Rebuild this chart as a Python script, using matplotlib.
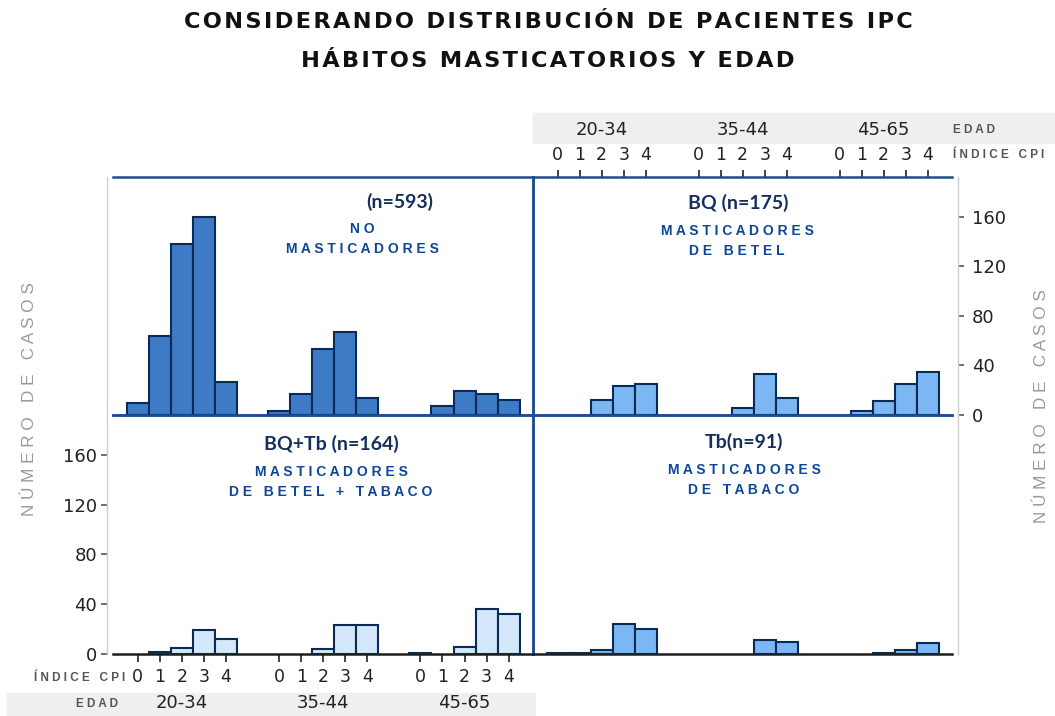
import matplotlib.pyplot as plt
import matplotlib.transforms as mtransforms
from matplotlib.patches import Rectangle

# datos (numero de casos por indice CPI 0-4 en cada grupo de edad)
cpi = [0, 1, 2, 3, 4]
edades = ['20-34', '35-44', '45-65']
no_mast = [[10, 64, 138, 160, 27], [3, 17, 53, 67, 14], [0, 7.5, 19, 17, 12]]
betel = [[0, 0, 12, 23, 25], [0, 0, 6, 33, 14], [0, 3, 11, 25, 35]]
betel_tabaco = [[0, 1.5, 4.5, 19, 12], [0, 0, 4, 23, 23], [1, 0, 6, 36, 32.5]]
tabaco = [[1, 1, 3.5, 24, 20], [0, 0, 0, 11.5, 10], [0, 0, 1, 3.5, 8.6]]
yticks = [0, 40, 80, 120, 160]

offsets = [0, 6.4, 12.8]
W, H = 1055, 716
BLUE = '#1d4b94'
NAVY = '#0b2a55'
TXT = '#0d4698'


def spaced(s):
    return '   '.join(' '.join(w) for w in s.split(' '))


def px_axes(x0, y0, x1, y1):
    return fig.add_axes([x0 / W, 1 - y1 / H, (x1 - x0) / W, (y1 - y0) / H])


fig = plt.figure(figsize=(W / 100, H / 100), dpi=100)

ax_tl = px_axes(113, 177, 533, 415)
ax_tr = px_axes(533, 177, 952, 415)
ax_bl = px_axes(113, 415, 533, 654)
ax_br = px_axes(533, 415, 952, 654)

panels = [
    (ax_tl, no_mast, '#3d7bc7', '(n=593)', 'NO\nMASTICADORES', 0.683, 0.593, 0.897),
    (ax_tr, betel, '#7ab7f3', 'BQ (n=175)', 'MASTICADORES\nDE BETEL', 0.49, 0.487, 0.89),
    (ax_bl, betel_tabaco, '#d5e7fb', 'BQ+Tb (n=164)', 'MASTICADORES\nDE BETEL + TABACO', 0.519, 0.519, 0.879),
    (ax_br, tabaco, '#7ab7f3', 'Tb(n=91)', 'MASTICADORES\nDE TABACO', 0.504, 0.504, 0.888),
]

for ax, data, color, head, sub, hx, sx, hy in panels:
    for g, vals in enumerate(data):
        xs = [offsets[g] + c for c, v in zip(cpi, vals) if v > 0]
        hs = [v for v in vals if v > 0]
        ax.bar(xs, hs, width=1.0, color=color, edgecolor=NAVY, linewidth=1.5, zorder=3)
    ax.set_xlim(-1.12, 17.9)
    ax.set_ylim(0, 192)
    ax.set_xticks([])
    ax.set_yticks([])
    ax.patch.set_alpha(0)
    for side in ['top', 'bottom', 'left', 'right']:
        ax.spines[side].set_color(BLUE)
        ax.spines[side].set_linewidth(1.8)
    ax.text(hx, hy, head, transform=ax.transAxes, ha='center', va='center',
            fontsize=14, fontweight='bold', family='Lato', color='#132f5c')
    lines = sub.split('\n')
    for i, ln in enumerate(lines):
        ax.text(sx, hy - 0.117 - i * 0.084, spaced(ln), transform=ax.transAxes,
                ha='center', va='center', fontsize=10, fontweight='bold',
                family='Liberation Sans', color=TXT)

# ejes izquierdos y derechos (grises, desplazados)
for ax in [ax_tl, ax_bl]:
    ax.spines['left'].set_position(('outward', 4.3))
    ax.spines['left'].set_color('#cfcfcf')
    ax.spines['left'].set_linewidth(1.0)
for ax in [ax_tr, ax_br]:
    ax.spines['right'].set_position(('outward', 4.3))
    ax.spines['right'].set_color('#cfcfcf')
    ax.spines['right'].set_linewidth(1.0)
for ax in [ax_bl, ax_br]:
    ax.spines['bottom'].set_color('#1e1e1e')

ax_bl.set_yticks(yticks)
ax_bl.tick_params(axis='y', direction='out', length=4, width=1.2, color='#555555',
                  labelsize=13, pad=3, labelcolor='#222222')
ax_tr.yaxis.tick_right()
ax_tr.set_yticks(yticks)
ax_tr.tick_params(axis='y', direction='out', length=4, width=1.2, color='#555555',
                  labelsize=13, pad=6, labelcolor='#222222')

xt = [offsets[g] + c for g in range(3) for c in cpi]
xl = [str(c) for g in range(3) for c in cpi]
ax_bl.set_xticks(xt)
ax_bl.set_xticklabels(xl)
ax_bl.tick_params(axis='x', direction='out', length=6, width=1.3, color='#333333',
                  labelsize=12.5, pad=4, labelcolor='#222222')
ax_tr.xaxis.tick_top()
ax_tr.set_xticks(xt)
ax_tr.set_xticklabels(xl)
ax_tr.tick_params(axis='x', direction='out', length=5, width=1.3, color='#333333',
                  labelsize=12.5, pad=4, labelcolor='#222222')

# bandas grises con la edad
fig.add_artist(Rectangle((533 / W, 1 - 143 / H), 1 - 533 / W, 30 / H,
                         transform=fig.transFigure, color='#efefef', zorder=0))
fig.add_artist(Rectangle((7 / W, 0), 528 / W, 23 / H,
                         transform=fig.transFigure, color='#efefef', zorder=0))
tr_top = mtransforms.blended_transform_factory(ax_tr.transData, fig.transFigure)
tr_bot = mtransforms.blended_transform_factory(ax_bl.transData, fig.transFigure)
for g, e in enumerate(edades):
    ax_tr.text(offsets[g] + 2, 1 - 130 / H, e, transform=tr_top, ha='center',
               va='center', fontsize=13, color='#222222')
    ax_bl.text(offsets[g] + 2, 1 - 703 / H, e, transform=tr_bot, ha='center',
               va='center', fontsize=13, color='#222222')

small = dict(fontsize=8.5, fontweight='bold', family='Liberation Sans', color='#555555', va='center')
fig.text(953 / W, 1 - 130 / H, spaced('EDAD'), ha='left', **small)
fig.text(953 / W, 1 - 155 / H, spaced('ÍNDICE CPI'), ha='left', **small)
fig.text(125 / W, 1 - 678 / H, spaced('ÍNDICE CPI'), ha='right', **small)
fig.text(118 / W, 1 - 704 / H, spaced('EDAD'), ha='right', **small)

lab = dict(fontsize=12.3, family='Liberation Sans', color='#9a9a9a', rotation=90,
           ha='center', va='center')
fig.text(30 / W, 1 - 399 / H, spaced('NÚMERO DE CASOS'), **lab)
fig.text(1042 / W, 1 - 406 / H, spaced('NÚMERO DE CASOS'), **lab)

tit = dict(fontsize=16.2, fontweight='bold', ha='center', va='center', color='#111111')
fig.text(548 / W, 1 - 22 / H, '\u200a'.join('CONSIDERANDO DISTRIBUCIÓN DE PACIENTES IPC'), **tit)
fig.text(548 / W, 1 - 61 / H, '\u200a'.join('HÁBITOS MASTICATORIOS Y EDAD'), **tit)

fig.savefig('out.png', dpi=100)
